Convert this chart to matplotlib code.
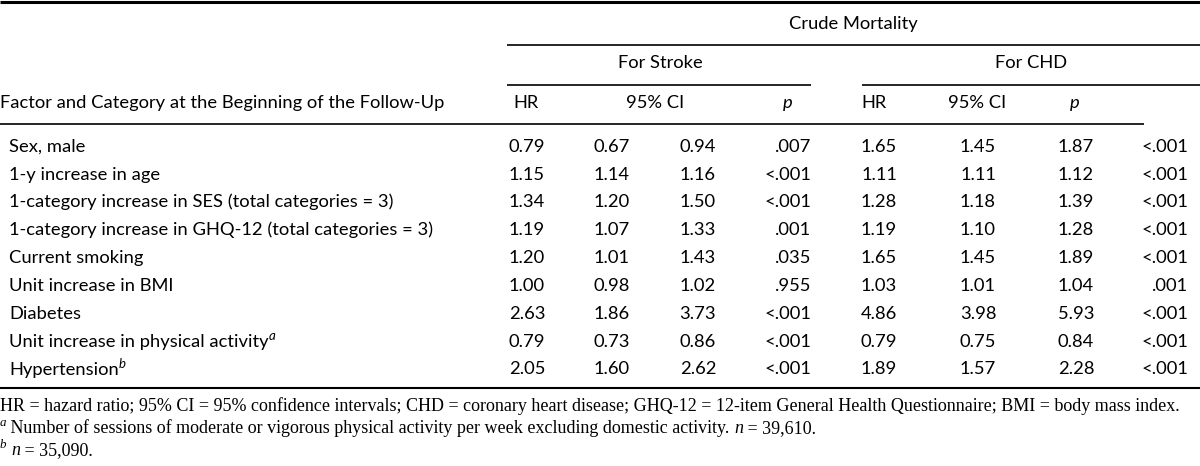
"""Crude mortality hazard ratio table, redrawn with matplotlib text and lines."""
import matplotlib
matplotlib.use("Agg")
import matplotlib.pyplot as plt

# ---- table data -----------------------------------------------------------
factors = [
    "Sex, male",
    "1-y increase in age",
    "1-category increase in SES (total categories = 3)",
    "1-category increase in GHQ-12 (total categories = 3)",
    "Current smoking",
    "Unit increase in BMI",
    "Diabetes",
    "Unit increase in physical activity",
    "Hypertension",
]
factor_notes = ["", "", "", "", "", "", "", "a", "b"]

stroke_hr = [0.79, 1.15, 1.34, 1.19, 1.20, 1.00, 2.63, 0.79, 2.05]
stroke_lo = [0.67, 1.14, 1.20, 1.07, 1.01, 0.98, 1.86, 0.73, 1.60]
stroke_hi = [0.94, 1.16, 1.50, 1.33, 1.43, 1.02, 3.73, 0.86, 2.62]
stroke_p = [".007", "<.001", "<.001", ".001", ".035", ".955", "<.001", "<.001", "<.001"]

chd_hr = [1.65, 1.11, 1.28, 1.19, 1.65, 1.03, 4.86, 0.79, 1.89]
chd_lo = [1.45, 1.11, 1.18, 1.10, 1.45, 1.01, 3.98, 0.75, 1.57]
chd_hi = [1.87, 1.12, 1.39, 1.28, 1.89, 1.04, 5.93, 0.84, 2.28]
chd_p = ["<.001", "<.001", "<.001", "<.001", "<.001", ".001", "<.001", "<.001", "<.001"]

abbrev_note = ("HR = hazard ratio; 95% CI = 95% confidence intervals; "
               "CHD = coronary heart disease; GHQ-12 = 12-item General Health "
               "Questionnaire; BMI = body mass index.")
note_a = "Number of sessions of moderate or vigorous physical activity per week excluding domestic activity."
n_a = "39,610"
n_b = "35,090"

# ---- layout (pixels, y grows downward) --------------------------------------
SANS = "Lato"
SERIF = "Liberation Serif"
FS = 13.2       # table text, pt
FS_NOTE = 13.0  # footnotes, pt

fig = plt.figure(figsize=(12, 4.66), dpi=100)
ax = fig.add_axes([0, 0, 1, 1])
ax.set_xlim(0, 1200)
ax.set_ylim(466, 0)
ax.axis("off")
renderer = fig.canvas.get_renderer()


def draw_runs(x, y, runs, size, family):
    """Draw text pieces one after the other: (text, style, is_superscript)."""
    for s, style, sup in runs:
        fs = size * 0.72 if sup else size
        yy = y - size * 100 / 72 * 0.38 if sup else y
        t = ax.text(x, yy, s, fontsize=fs, family=family, style=style,
                    ha="left", va="baseline")
        x += t.get_window_extent(renderer=renderer).width


def hline(x0, x1, y, lw=1.2):
    ax.plot([x0, x1], [y, y], color="black", lw=lw, solid_capstyle="butt")


# rules
hline(0, 1200, 1.5, lw=2.2)
hline(507, 1200, 45)
hline(507, 811, 85)
hline(862, 1200, 85)
hline(0, 1144, 124)
hline(0, 1200, 388, lw=1.5)

# spanning headers
ax.text(853, 29, "Crude Mortality", fontsize=FS, family=SANS, ha="center", va="baseline")
ax.text(660, 68, "For Stroke", fontsize=FS, family=SANS, ha="center", va="baseline")
ax.text(1031, 68, "For CHD", fontsize=FS, family=SANS, ha="center", va="baseline")

# column headers
hdr_y = 108
ax.text(0, hdr_y, "Factor and Category at the Beginning of the Follow-Up",
        fontsize=FS, family=SANS, ha="left", va="baseline")
for x, s, st in [(526, "HR", "normal"), (655, "95% CI", "normal"), (788, "p", "italic"),
                 (874, "HR", "normal"), (977, "95% CI", "normal"), (1075, "p", "italic")]:
    ax.text(x, hdr_y, s, fontsize=FS, family=SANS, style=st, ha="center", va="baseline")

# body rows
row0, row_step = 151.7, 27.85
num_cols = [(527, stroke_hr), (612, stroke_lo), (698, stroke_hi),
            (879, chd_hr), (978, chd_lo), (1076, chd_hi)]
p_cols = [(811, stroke_p), (1188, chd_p)]

for i, name in enumerate(factors):
    y = row0 + i * row_step
    runs = [(name, "normal", False)]
    if factor_notes[i]:
        runs.append((factor_notes[i], "italic", True))
    draw_runs(9, y, runs, FS, SANS)
    for x, vals in num_cols:
        ax.text(x, y, f"{vals[i]:.2f}", fontsize=FS, family=SANS, ha="center", va="baseline")
    for x, vals in p_cols:
        ax.text(x, y, vals[i], fontsize=FS, family=SANS, ha="right", va="baseline")

# footnotes
draw_runs(0, 411, [(abbrev_note, "normal", False)], FS_NOTE, SERIF)
draw_runs(0, 433, [("a", "italic", True), (" " + note_a + " ", "normal", False),
                   ("n", "italic", False), (" = " + n_a + ".", "normal", False)], FS_NOTE, SERIF)
draw_runs(0, 455, [("b", "italic", True), (" ", "normal", False),
                   ("n", "italic", False), (" = " + n_b + ".", "normal", False)], FS_NOTE, SERIF)

fig.savefig("out.png", dpi=100, facecolor="white")
plt.close(fig)
